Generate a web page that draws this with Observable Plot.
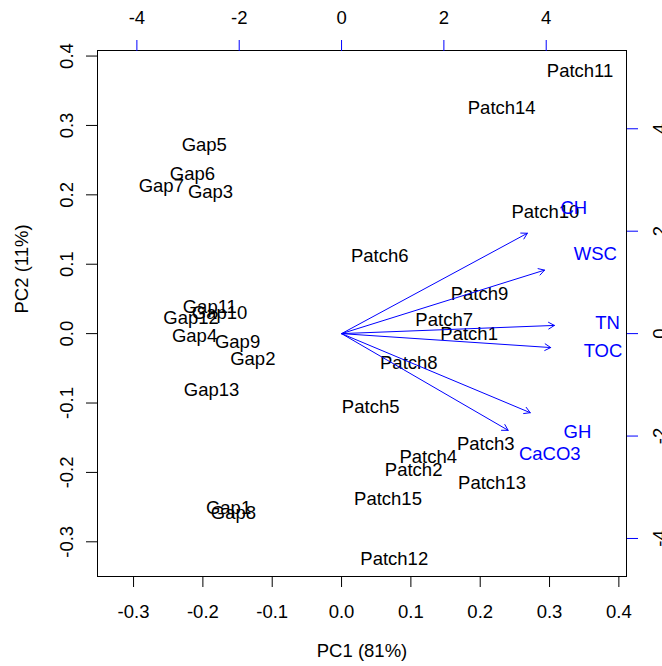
<!DOCTYPE html>
<html><head><meta charset="utf-8">
<script src="https://cdn.jsdelivr.net/npm/d3@7"></script>
<script src="https://cdn.jsdelivr.net/npm/@observablehq/plot@0.6"></script>
<style>body{margin:0;background:#fff}</style>
</head><body><div id="chart"></div>
<script>
const sampleNames = ["Gap1","Gap2","Gap3","Gap4","Gap5","Gap6","Gap7","Gap8","Gap9","Gap10","Gap11","Gap12","Gap13",
  "Patch1","Patch2","Patch3","Patch4","Patch5","Patch6","Patch7","Patch8","Patch9","Patch10","Patch11","Patch12","Patch13","Patch14","Patch15"];
const pc1 = [-0.163,-0.128,-0.189,-0.212,-0.198,-0.215,-0.260,-0.156,-0.150,-0.176,-0.190,-0.217,-0.1875,
  0.184,0.104,0.208,0.125,0.042,0.055,0.148,0.097,0.199,0.294,0.344,0.076,0.217,0.231,0.067];
const pc2 = [-0.252,-0.036,0.204,-0.004,0.272,0.230,0.212,-0.259,-0.012,0.029,0.038,0.022,-0.081,
  0.000,-0.196,-0.159,-0.178,-0.106,0.112,0.020,-0.043,0.057,0.175,0.379,-0.325,-0.216,0.325,-0.238];
const varNames = ["CH","WSC","TN","TOC","GH","CaCO3"];
const load1 = [4.54,4.96,5.20,5.11,4.61,4.07];
const load2 = [2.45,1.55,0.20,-0.34,-1.93,-2.36];
const pcTicks = [-0.3,-0.2,-0.1,0.0,0.1,0.2,0.3,0.4];
const loadTicks = [-4,-2,0,2,4];
const xLabel = "PC1 (81%)";
const yLabel = "PC2 (11%)";
const k = 0.0738; // loading units -> score units (secondary axes)

const samples = sampleNames.map((n,i)=>({name:n, x:pc1[i], y:pc2[i]}));
const vars = varNames.map((n,i)=>({name:n, x:load1[i]*k, y:load2[i]*k}));
const fmt1 = d => d.toFixed(1);
const fmtL = d => String(Math.round(d/k));
const font = "'Liberation Sans', Arial, sans-serif";
const fs = 18.5;

const chart = Plot.plot({
  width: 662, height: 666,
  marginLeft: 97, marginRight: 36, marginTop: 50, marginBottom: 90,
  style: {fontFamily: font, fontSize: fs + "px", color: "black", background: "white"},
  x: {domain: [-0.352, 0.411]},
  y: {domain: [-0.350, 0.408]},
  marks: [
    Plot.frame({stroke: "black", strokeWidth: 1}),
    Plot.axisX({anchor: "bottom", ticks: pcTicks, tickFormat: fmt1, tickSize: 11, tickPadding: 17, label: null, fontSize: fs}),
    Plot.axisY({anchor: "left", ticks: pcTicks, tickFormat: fmt1, tickSize: 11, tickRotate: -90, lineAnchor: "bottom", tickPadding: 13.5, label: null, fontSize: fs}),
    Plot.axisX({anchor: "top", ticks: loadTicks.map(v=>v*k), tickFormat: fmtL, tickSize: 11, tickPadding: 15.5, stroke: "blue", fill: "black", label: null, fontSize: fs}),
    Plot.axisY({anchor: "right", ticks: loadTicks.map(v=>v*k), tickFormat: fmtL, tickSize: 11, tickRotate: -90, lineAnchor: "top", tickPadding: 15, stroke: "blue", fill: "black", label: null, fontSize: fs}),
    Plot.text([xLabel], {frameAnchor: "bottom", dy: 80, fontSize: fs, fill: "black"}),
    Plot.text([yLabel], {frameAnchor: "left", dx: -75, rotate: -90, fontSize: fs, fill: "black"}),
    Plot.text(samples, {x: "x", y: "y", text: "name", fontSize: fs, fill: "black"}),
    Plot.arrow(vars, {x1: 0, y1: 0, x2: d => d.x*0.8, y2: d => d.y*0.8, stroke: "blue", strokeWidth: 1, headLength: 10, headAngle: 60}),
    Plot.text(vars, {x: "x", y: "y", text: "name", fontSize: fs, fill: "blue"})
  ]
});
document.getElementById("chart").appendChild(chart);
</script>
</body></html>
